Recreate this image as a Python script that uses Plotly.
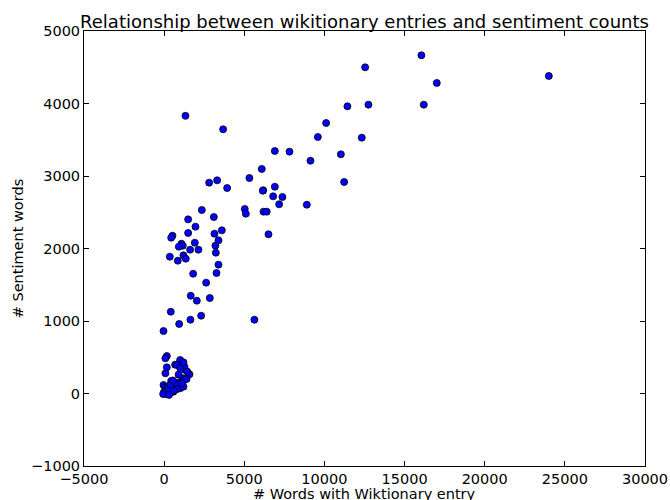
import plotly.graph_objects as go

# Words with Wiktionary entry (x) vs sentiment words (y)
x_vals = [
    # dense cluster near origin
    -40, 62, 206, 0, 125, -62, 330, 480, 580, 686, 998, 1205, 437, 892, 749,
    1165, 1205, 1310, 1580, 1268, 998, 1205, 686, 790, 80, 168, 168, 80, -40,
    250, 400, 550, 800, 1100, 1400, 900, 300, 1000, 600, 1450,
    # middle group
    415, 936, 1640, 2310, 1660, 2040, 2850, 2620, 1810, 3265, 3390, 852,
    1205, 1350, 354, 1620, 2140, 3225, 3200, 3390, 1913, 1080, 1165, 915,
    520, 440, 3600, 3140, 1497, 1955, 3100, 1497, 2350, 2807, 3306, 3930,
    1330, 3680, 5630, 5030, 5096, 6200, 6400, 6510,
    # upper group
    5320, 6090, 6180, 6157, 6906, 6800, 7380, 7174, 8900, 6906, 7820,
    9130, 11025, 11230, 9590, 12330, 10106, 11435, 12745, 16200, 12540,
    16050, 17010, 24000,
]
y_vals = [
    117, 94, 86, 25, -7, -7, 11, 48, 25, 94, 72, 94, 172, 149, 127,
    210, 177, 324, 265, 370, 462, 430, 397, 397, 279, 361, 517, 486, 862,
    60, 120, 180, 60, 140, 200, 260, -20, 350, 40, 300,
    1128, 959, 1018, 1073, 1349, 1280, 1317, 1529, 1652, 1662, 1777, 1832,
    1906, 1859, 1887, 1984, 1984, 1942, 2039, 2113, 2080, 2066, 2039, 2025,
    2177, 2149, 2251, 2204, 2214, 2301, 2434, 2402, 2531, 2908, 2940, 2834,
    3830, 3644, 1018, 2545, 2480, 2508, 2508, 2196,
    2972, 3097, 2803, 2797, 2852, 2720, 2710, 2610, 2604, 3345, 3336,
    3211, 3299, 2917, 3538, 3529, 3731, 3961, 3984, 3984, 4499,
    4665, 4283, 4380,
]

x_ticks = [-5000, 0, 5000, 10000, 15000, 20000, 25000, 30000]
x_tick_labels = ["\u22125000", "0", "5000", "10000", "15000", "20000", "25000", "30000"]
y_ticks = [-1000, 0, 1000, 2000, 3000, 4000, 5000]
y_tick_labels = ["\u22121000", "0", "1000", "2000", "3000", "4000", "5000"]

font_family = "DejaVu Sans"

fig = go.Figure()
fig.add_trace(go.Scatter(
    x=x_vals, y=y_vals, mode="markers",
    marker=dict(color="#0000ff", size=7, line=dict(color="black", width=0.8)),
    showlegend=False,
))

axis_common = dict(
    showgrid=False, zeroline=False, showline=True, linecolor="black",
    linewidth=1, mirror="ticks", ticks="inside", ticklen=5, tickwidth=1,
    tickcolor="black", tickfont=dict(family=font_family, size=14.5, color="black"),
)

fig.update_layout(
    width=670, height=500,
    margin=dict(l=84, r=25, t=31, b=34, autoexpand=False),
    paper_bgcolor="white", plot_bgcolor="white",
    title=dict(text="Relationship between wikitionary entries and sentiment counts",
               x=0.5, xref="paper", y=1, yref="paper", yanchor="bottom",
               pad=dict(b=3),
               font=dict(family=font_family, size=18, color="black")),
    xaxis=dict(range=[-5000, 30000], tickvals=x_ticks, ticktext=x_tick_labels,
               **axis_common),
    yaxis=dict(range=[-1000, 5000], tickvals=y_ticks, ticktext=y_tick_labels,
               **axis_common),
    annotations=[
        dict(text="# Words with Wiktionary entry", xref="paper", yref="paper",
             x=0.5, y=-0.065, xanchor="center", yanchor="middle", showarrow=False,
             font=dict(family=font_family, size=14.5, color="black")),
        dict(text="# Sentiment words", xref="paper", yref="paper",
             x=-0.118, y=0.5, xanchor="center", yanchor="middle", showarrow=False,
             textangle=-90,
             font=dict(family=font_family, size=14.5, color="black")),
    ],
)

fig.write_html("out.html")
